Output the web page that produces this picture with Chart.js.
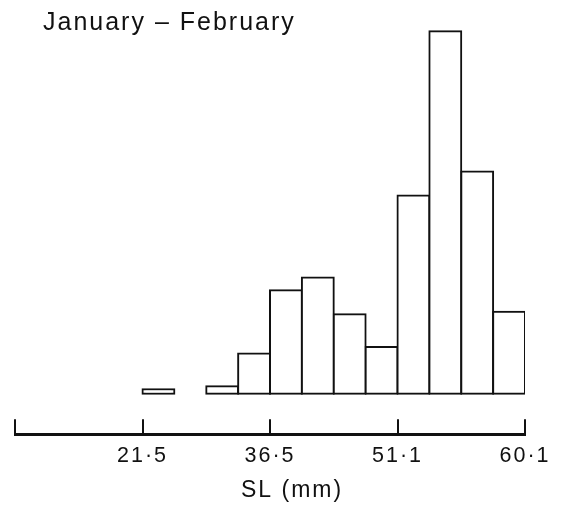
<!DOCTYPE html>
<html>
<head>
<meta charset="utf-8">
<script src="https://cdn.jsdelivr.net/npm/chart.js@4.4.1/dist/chart.umd.min.js"></script>
<style>
  html, body { margin: 0; padding: 0; background: #fff; }
  #wrap { position: relative; width: 578px; height: 513px; }
</style>
</head>
<body>
<div id="wrap"><canvas id="chart-sl"></canvas></div>
<script>
// ─── SL histogram, Jan–Feb ───────────────────────

const TITLE      = 'January – February';
const AXIS_TITLE = 'SL (mm)';

// length classes (16 bins), labelled every 4th bin on the axis
const bins       = ['1','2','3','4','5','6','7','8','9','10','11','12','13','14','15','16'];
// relative frequency (%) per bin, null = empty class
const freq       = [null, null, null, null, 0.35, null, 0.6, 3.2, 8.2, 9.2, 6.3, 3.7, 15.7, 28.7, 17.6, 6.5];
const tickLabels = ['', '21·5', '36·5', '51·1', '60·1'];

const INK  = '#111';
const FONT = '"Liberation Sans", Arial, Helvetica, sans-serif';

// upward tick marks on the axis + the two captions
const axisDecor = {
  id: 'axisDecor',
  beforeDraw(chart) {
    chart.ctx.letterSpacing = '2px';
  },
  afterDraw(chart) {
    const { ctx, chartArea } = chart;
    const sc = chart.scales.xAxis;
    ctx.save();
    ctx.letterSpacing = '0px';
    ctx.strokeStyle = INK;
    ctx.lineWidth = 2;
    sc.ticks.forEach(t => {
      const x = Math.round(sc.getPixelForValue(t.value));
      ctx.beginPath();
      ctx.moveTo(x, chartArea.bottom);
      ctx.lineTo(x, chartArea.bottom - 15);
      ctx.stroke();
    });

    ctx.fillStyle = INK;
    ctx.textAlign = 'left';
    ctx.textBaseline = 'alphabetic';
    ctx.letterSpacing = '2px';
    ctx.font = '25px ' + FONT;
    ctx.fillText(TITLE, chartArea.left + 28, 30);
    ctx.font = '23px ' + FONT;
    ctx.fillText(AXIS_TITLE, 241, 497);
    ctx.restore();
    ctx.letterSpacing = '0px';
  }
};

new Chart(document.getElementById('chart-sl'), {
  type: 'bar',
  data: {
    labels: bins,
    datasets: [{
      data: freq,
      backgroundColor: '#fff',
      borderColor: INK,
      borderWidth: 2,
      borderSkipped: false,
      inflateAmount: 1,
      barPercentage: 1,
      categoryPercentage: 1
    }]
  },
  options: {
    responsive: true,
    maintainAspectRatio: false,
    animation: false,
    layout: { padding: { left: 15, right: 53, top: 20, bottom: 35 } },
    plugins: {
      legend: { display: false },
      tooltip: { enabled: false }
    },
    scales: {
      x: { display: false },
      xAxis: {
        type: 'linear',
        position: 'bottom',
        offset: false,
        min: 0,
        max: 16,
        grid: { display: false, drawTicks: false },
        border: { display: true, color: INK, width: 3 },
        ticks: {
          stepSize: 4,
          autoSkip: false,
          maxRotation: 0,
          padding: 9,
          color: INK,
          font: { family: FONT, size: 21.5, lineHeight: 1.2 },
          callback: v => tickLabels[v / 4] ?? ''
        }
      },
      y: { display: false, min: -3.2, max: 29.6 }
    }
  },
  plugins: [axisDecor]
});
</script>
</body>
</html>
